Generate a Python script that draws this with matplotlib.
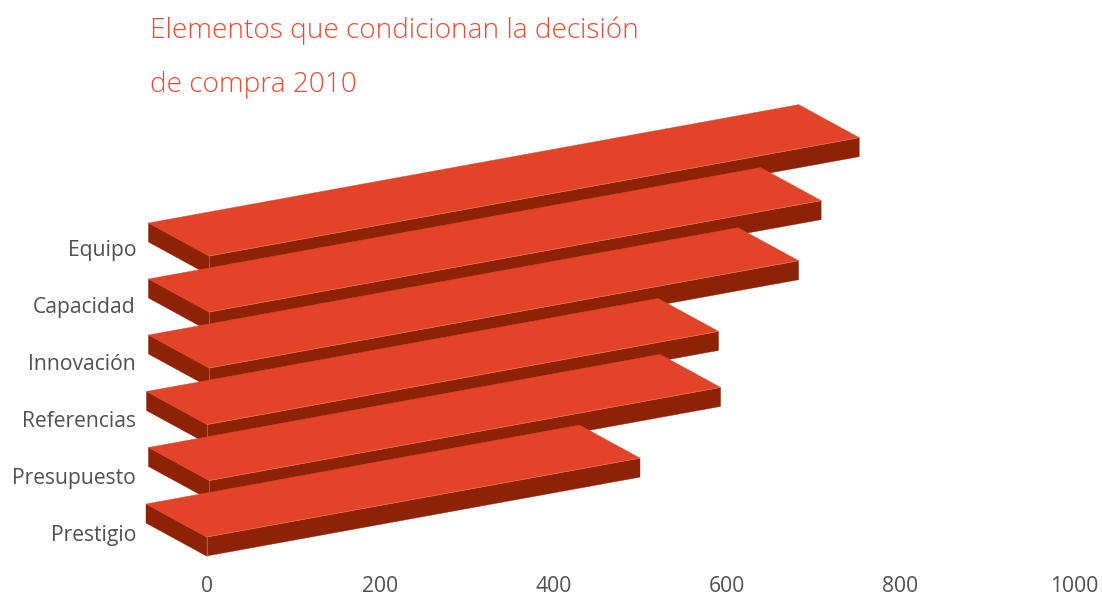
#!/usr/bin/env python3
"""
Barras en perspectiva: elementos que condicionan la decision de compra 2010
"""

import matplotlib

matplotlib.use("Agg")
import matplotlib.pyplot as plt
from matplotlib.patches import Polygon

categorias = ["Equipo", "Capacidad", "Innovación", "Referencias", "Presupuesto", "Prestigio"]
valores = [750, 706, 680, 590, 590, 500]
ticks_x = [0, 200, 400, 600, 800, 1000]

titulo = ["Elementos que condicionan la decisión", "de compra 2010"]

# Geometria de la perspectiva (pixeles de la figura)
ANCHO, ALTO = 1102, 596
X0, X1000 = 207, 1074
BASE_EJE = 568
PENDIENTE = -0.182
FONDO_X, FONDO_Y = -60.5, -33
GROSOR = 19
desfase_x = [2, 2, 2, 0, 2, -0.5]
y_frente = [256, 312, 368, 424.5, 480.5, 537]
y_etiquetas = [248, 304.5, 361.5, 419, 476, 533.5]

ROJO = "#e34326"
GRANATE = "#8d2207"
BRILLO = "#e8775c"
GRIS = "#505052"
COLOR_TITULO = "#ee4a30"

fig = plt.figure(figsize=(ANCHO / 100, ALTO / 100), dpi=100)
ax = fig.add_axes([X0 / ANCHO, 1 - BASE_EJE / ALTO, (X1000 - X0) / ANCHO, BASE_EJE / ALTO])
ax.set_xlim(0, 1000)
ax.set_ylim(BASE_EJE, 0)
escala = (X1000 - X0) / 1000


def barra(ax, valor, dx, y, z):
    # Esquinas en coordenadas de datos; la inclinacion sale del valor
    x_fin = valor + dx
    y_fin = y + PENDIENTE * valor * escala
    fx, fy = FONDO_X / escala, FONDO_Y
    ini = (dx, y)
    fin = (x_fin, y_fin)
    sup = [ini, fin, (x_fin + fx, y_fin + fy), (dx + fx, y + fy)]
    frente = [ini, fin, (x_fin, y_fin + GROSOR), (dx, y + GROSOR)]
    lado = [ini, (dx + fx, y + fy), (dx + fx, y + fy + GROSOR), (dx, y + GROSOR)]
    for puntos, color in [(frente, GRANATE), (lado, GRANATE), (sup, ROJO)]:
        ax.add_patch(Polygon(puntos, closed=True, facecolor=color, edgecolor=color, lw=0.3,
                             clip_on=False, zorder=z))
    # Filo claro entre la cara superior y la frontal
    ax.plot([dx, x_fin], [y, y_fin], color=BRILLO, lw=0.5, clip_on=False, zorder=z)
    ax.plot([dx, dx], [y, y + GROSOR], color=BRILLO, lw=0.4, clip_on=False, zorder=z)


for i, (valor, dx, y) in enumerate(zip(valores, desfase_x, y_frente)):
    barra(ax, valor, dx / escala, y, 2 + i)

for lado in ax.spines.values():
    lado.set_visible(False)
ax.patch.set_visible(False)

fuente = "Open Sans"
ax.set_xticks(ticks_x)
ax.set_xticklabels([str(t) for t in ticks_x], fontsize=15.2, color=GRIS, family=fuente)
ax.set_yticks(y_etiquetas)
ax.set_yticklabels(categorias, fontsize=15.2, color=GRIS, family=fuente)
ax.tick_params(axis="both", length=0)
ax.tick_params(axis="x", pad=6)
ax.tick_params(axis="y", pad=72 * (X0 - 136) / 100)

for linea, y_px in zip(titulo, [31, 85]):
    fig.text(150 / ANCHO, 1 - y_px / ALTO, linea, fontsize=20.2, color=COLOR_TITULO,
             family="Open Sans", weight="light", va="center", ha="left")

fig.savefig("out.png", dpi=100)
